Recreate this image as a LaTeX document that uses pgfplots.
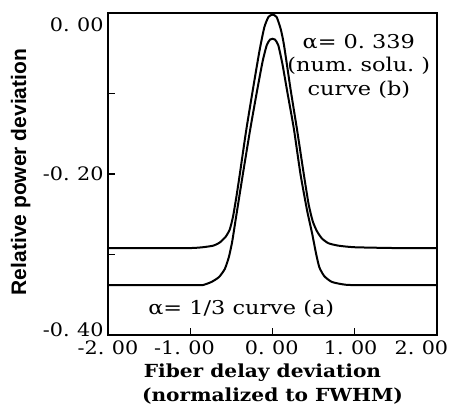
\documentclass[border=0pt]{standalone}
\usepackage{pgfplots}
\pgfplotsset{compat=1.18}
\usepackage{fontspec}
\setmainfont[FakeStretch=1.12]{DejaVu Serif}
\newfontfamily\annfont[FakeStretch=1.18]{DejaVu Serif}
\newfontfamily\labsans{Liberation Sans}
\newcommand{\dsp}{\hspace{0.4em}}

\begin{document}
\begin{tikzpicture}
\begin{axis}[
    scale only axis,
    width=329pt, height=322pt,
    xmin=-2, xmax=2,
    ymin=-0.40, ymax=0.00,
    xtick={-2,-1,0,1,2},
    xticklabels={},
    ytick={-0.4,-0.3,-0.2,-0.1,0},
    yticklabels={},
    extra x ticks={-2,-1.07,-0.01,0.95,1.81},
    extra x tick labels={-2.\dsp00, -1.\dsp00, 0.\dsp00, 1.\dsp00, 2.\dsp00},
    extra y ticks={-0.394,-0.2,-0.015},
    extra y tick labels={-0.\dsp40, -0.\dsp20, 0.\dsp00},
    extra tick style={major tick length=0pt},
    tick align=inside,
    xtick pos=bottom, ytick pos=left,
    major tick length=7pt,
    axis line style={line width=1.4pt},
    tick style={line width=1.3pt, black},
    tick label style={font=\fontsize{18.5}{20}\selectfont},
    xticklabel style={yshift=-2pt},
    yticklabel style={xshift=-1pt},
    xlabel={Fiber delay deviation\hspace*{20pt}\\(normalized to FWHM)},
    every axis x label/.style={at={(axis description cs:0.5,-0.088)},
        anchor=north, inner sep=0pt, align=center,
        font=\fontsize{18}{24}\selectfont\bfseries},
    ylabel={\labsans\bfseries Relative power deviation},
    every axis y label/.style={at={(axis description cs:-0.265,0.506)},
        rotate=90, anchor=center, inner sep=0pt,
        font=\fontsize{21}{22}\selectfont},
    clip=false,
]

% curve (b): alpha = 0.339, numerical solution
\addplot[black, line width=2pt, smooth, tension=0.35] coordinates {
(-2.00,-0.292) (-1.50,-0.292) (-1.00,-0.292) (-0.85,-0.291) (-0.72,-0.289)
(-0.64,-0.285) (-0.57,-0.278) (-0.52,-0.269) (-0.48,-0.253) (-0.44,-0.229)
(-0.40,-0.202) (-0.32,-0.146) (-0.24,-0.096) (-0.16,-0.048) (-0.10,-0.018)
(-0.05,-0.005) (0.00,-0.002) (0.05,-0.005) (0.10,-0.020) (0.14,-0.040)
(0.22,-0.095) (0.30,-0.146) (0.38,-0.200) (0.44,-0.238) (0.49,-0.259)
(0.54,-0.271) (0.60,-0.280) (0.68,-0.286) (0.80,-0.289) (1.00,-0.291)
(1.50,-0.292) (2.00,-0.292)
};

% curve (a): alpha = 1/3
\addplot[black, line width=2pt, smooth, tension=0.35] coordinates {
(-2.00,-0.338) (-1.00,-0.338) (-0.85,-0.338) (-0.74,-0.334) (-0.65,-0.328)
(-0.58,-0.318) (-0.53,-0.303) (-0.49,-0.284) (-0.45,-0.258) (-0.36,-0.200)
(-0.27,-0.144) (-0.19,-0.098) (-0.12,-0.060) (-0.07,-0.040) (-0.03,-0.033)
(0.00,-0.032) (0.03,-0.033) (0.07,-0.040) (0.12,-0.063) (0.18,-0.098)
(0.26,-0.144) (0.34,-0.200) (0.42,-0.245) (0.48,-0.273) (0.53,-0.299)
(0.57,-0.316) (0.63,-0.327) (0.72,-0.334) (0.85,-0.337) (1.00,-0.338)
(2.00,-0.338)
};

\node[font=\fontsize{19}{23.5}\selectfont\annfont, align=center] at (axis cs:1.05,-0.066)
  {α=\ 0.\ 339\\(num.\ solu.\ )\\curve\ (b)};
\node[font=\fontsize{19}{22}\selectfont\annfont] at (axis cs:-0.38,-0.367)
  {α=\ 1/3\ curve\ (a)};
\end{axis}
\pgfresetboundingbox
\path ([shift={(-108pt,-70pt)}]current axis.south west)
  rectangle ([shift={(15pt,13pt)}]current axis.north east);
\end{tikzpicture}
\end{document}
